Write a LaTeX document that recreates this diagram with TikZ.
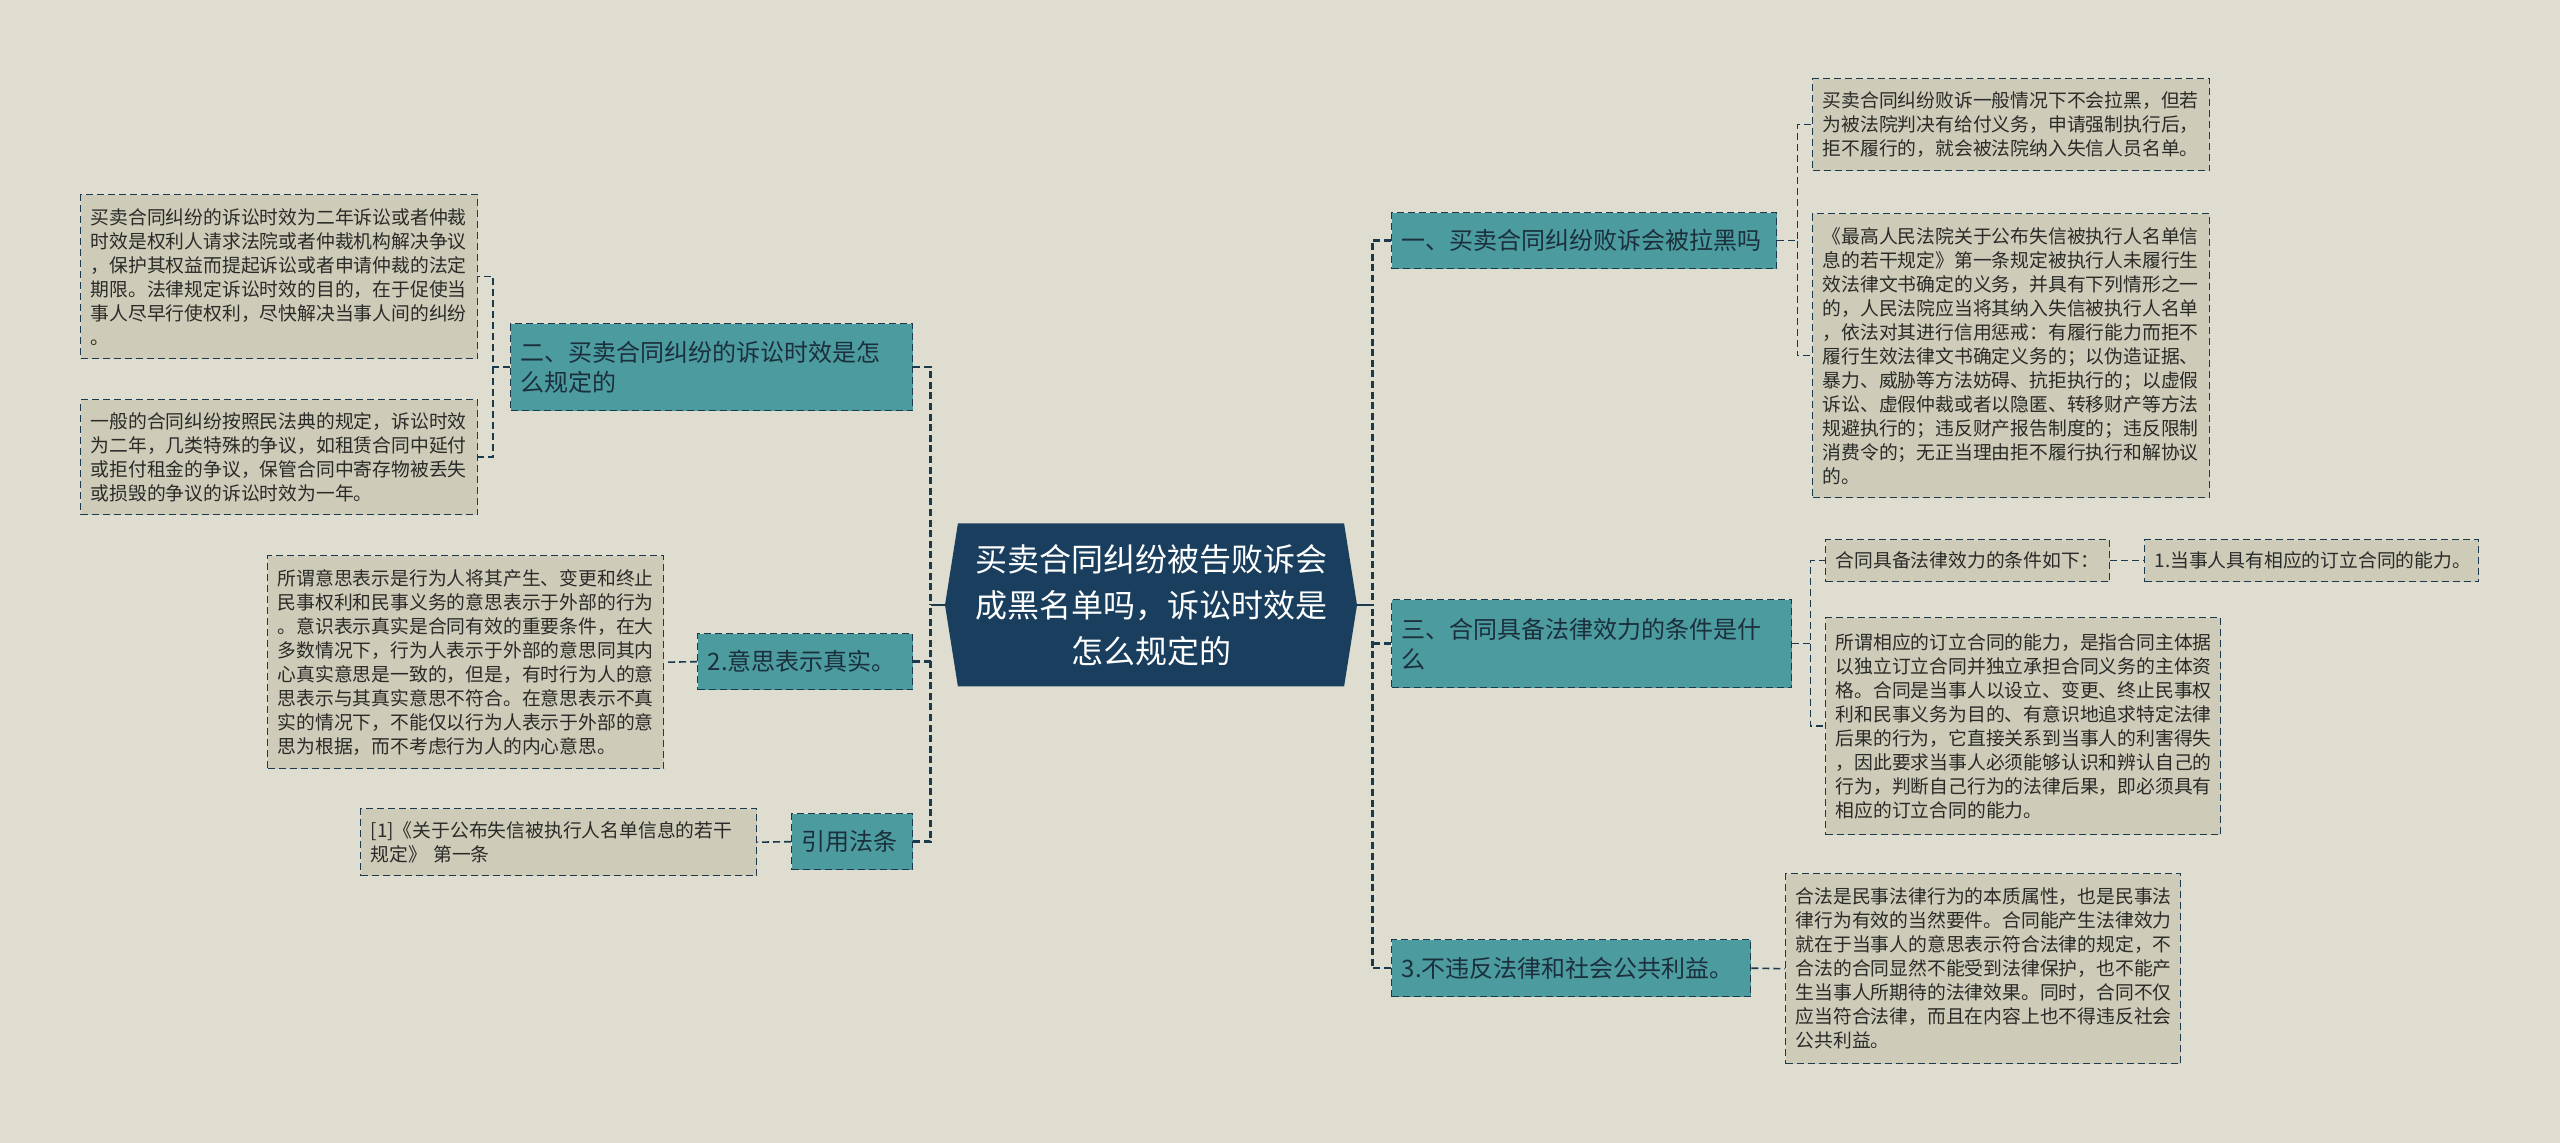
\documentclass[tikz,border=0pt]{standalone}
\usepackage{fontspec}
\newfontfamily\cjk{Noto Sans CJK SC}
\usepackage{xcolor}
\definecolor{PaperBg}{HTML}{DEDDCF}
\definecolor{RootBlue}{HTML}{1A3F5E}
\definecolor{TopicTeal}{HTML}{4C9B9E}
\definecolor{TopicInk}{HTML}{1B2F3C}
\definecolor{LeafKhaki}{HTML}{CECCB8}
\definecolor{LeafInk}{HTML}{2A2A28}
\definecolor{LineNavy}{HTML}{1C3A4E}
\usepackage{tikz}
\usetikzlibrary{
  shapes.symbols,calc
}

\begin{document}
\begin{tikzpicture}[
    x=0.5pt,y=-0.5pt,
    every node/.style={font=\cjk},
    root/.style={signal,signal to=west and east,signal pointer angle=162,
      fill=RootBlue,text=white,align=center,inner sep=0pt,
      minimum width=206pt,minimum height=81.5pt,
      font=\cjk\fontsize{16}{23}\selectfont},
    topic/.style={anchor=north west,fill=TopicTeal,draw=LineNavy,line width=0.7pt,
      dash pattern=on 3.5pt off 2pt,text=TopicInk,align=left,
      inner xsep=5pt,inner ysep=2pt,font=\cjk\fontsize{12}{15}\selectfont},
    leaf/.style={anchor=north west,fill=LeafKhaki,draw=LineNavy,line width=0.7pt,
      dash pattern=on 3.5pt off 2pt,text=LeafInk,align=left,
      inner xsep=5pt,inner ysep=2pt,font=\cjk\fontsize{9.4}{12}\selectfont},
    stem/.style={draw=LineNavy,line width=1.3pt},
    trunk/.style={draw=LineNavy,line width=1.2pt,dash pattern=on 3.5pt off 1.8pt},
    twig/.style={draw=LineNavy,line width=0.8pt,dash pattern=on 3.5pt off 2pt}
  ]
  \useasboundingbox (0,0) rectangle (2560,1143);
  \fill[PaperBg] (0,0) rectangle (2560,1143);

  \node[root] (root) at (1151,605) {买卖合同纠纷被告败诉会\\成黑名单吗，诉讼时效是\\怎么规定的};

  % left side
  \node[topic,text width=191pt,minimum height=43.5pt] (limit) at (510,323)
    {二、买卖合同纠纷的诉讼时效是怎\\么规定的};
  \node[leaf,text width=188.5pt,minimum height=82pt] (limitA) at (80,194)
    {买卖合同纠纷的诉讼时效为二年诉讼或者仲裁\\时效是权利人请求法院或者仲裁机构解决争议\\，保护其权益而提起诉讼或者申请仲裁的法定\\期限。法律规定诉讼时效的目的，在于促使当\\事人尽早行使权利，尽快解决当事人间的纠纷\\。};
  \node[leaf,text width=188.5pt,minimum height=57.5pt] (limitB) at (80,399)
    {一般的合同纠纷按照民法典的规定，诉讼时效\\为二年，几类特殊的争议，如租赁合同中延付\\或拒付租金的争议，保管合同中寄存物被丢失\\或损毁的争议的诉讼时效为一年。};

  \node[topic,text width=97.5pt,minimum height=28pt] (intent) at (697,633)
    {2.意思表示真实。};
  \node[leaf,text width=188pt,minimum height=106.5pt] (intentA) at (267,555)
    {所谓意思表示是行为人将其产生、变更和终止\\民事权利和民事义务的意思表示于外部的行为\\。意识表示真实是合同有效的重要条件，在大\\多数情况下，行为人表示于外部的意思同其内\\心真实意思是一致的，但是，有时行为人的意\\思表示与其真实意思不符合。在意思表示不真\\实的情况下，不能仅以行为人表示于外部的意\\思为根据，而不考虑行为人的内心意思。};

  \node[topic,text width=50.5pt,minimum height=28pt] (cite) at (791,813)
    {引用法条};
  \node[leaf,text width=188pt,minimum height=33.5pt] (citeA) at (360,808)
    {[1]《关于公布失信被执行人名单信息的若干\\规定》 第一条};

  % right side
  \node[topic,text width=182.5pt,minimum height=28pt] (blacklist) at (1391,212)
    {一、买卖合同纠纷败诉会被拉黑吗};
  \node[leaf,text width=188.5pt,minimum height=46pt] (blackA) at (1812,78)
    {买卖合同纠纷败诉一般情况下不会拉黑，但若\\为被法院判决有给付义务，申请强制执行后，\\拒不履行的，就会被法院纳入失信人员名单。};
  \node[leaf,text width=188.5pt,minimum height=142pt] (blackB) at (1812,213)
    {《最高人民法院关于公布失信被执行人名单信\\息的若干规定》第一条规定被执行人未履行生\\效法律文书确定的义务，并具有下列情形之一\\的，人民法院应当将其纳入失信被执行人名单\\，依法对其进行信用惩戒：有履行能力而拒不\\履行生效法律文书确定义务的；以伪造证据、\\暴力、威胁等方法妨碍、抗拒执行的；以虚假\\诉讼、虚假仲裁或者以隐匿、转移财产等方法\\规避执行的；违反财产报告制度的；违反限制\\消费令的；无正当理由拒不履行执行和解协议\\的。};

  \node[topic,text width=190pt,minimum height=44pt] (valid) at (1391,599)
    {三、合同具备法律效力的条件是什\\么};
  \node[leaf,text width=132pt,minimum height=21pt] (validA) at (1825,539)
    {合同具备法律效力的条件如下：};
  \node[leaf,text width=157pt,minimum height=21pt] (validA1) at (2144,539)
    {1.当事人具有相应的订立合同的能力。};
  \node[leaf,text width=187.5pt,minimum height=108.5pt] (validB) at (1825,617)
    {所谓相应的订立合同的能力，是指合同主体据\\以独立订立合同并独立承担合同义务的主体资\\格。合同是当事人以设立、变更、终止民事权\\利和民事义务为目的、有意识地追求特定法律\\后果的行为，它直接关系到当事人的利害得失\\，因此要求当事人必须能够认识和辨认自己的\\行为，判断自己行为的法律后果，即必须具有\\相应的订立合同的能力。};

  \node[topic,text width=169.5pt,minimum height=28.5pt] (legal) at (1391,939)
    {3.不违反法律和社会公共利益。};
  \node[leaf,text width=187.5pt,minimum height=95pt] (legalA) at (1785,873)
    {合法是民事法律行为的本质属性，也是民事法\\律行为有效的当然要件。合同能产生法律效力\\就在于当事人的意思表示符合法律的规定，不\\合法的合同显然不能受到法律保护，也不能产\\生当事人所期待的法律效果。同时，合同不仅\\应当符合法律，而且在内容上也不得违反社会\\公共利益。};

  % connectors
  \draw[stem] (root.west) -- ++(-14,0) coordinate (lfork);
  \draw[stem] (root.east) -- ++(15,0) coordinate (rfork);
  \draw[trunk] (limit.east) -| (lfork) (cite.east) -| (lfork)
    (intent.east) -- (intent.east -| lfork);
  \draw[trunk] (blacklist.west) -| (rfork) (legal.west) -| (rfork)
    (valid.west) -- (valid.west -| rfork);

  \draw[twig] (limit.west) -- ++(-17,0) coordinate (limitfork) |- (limitA.east)
    (limitfork) |- (limitB.east);
  \draw[twig] (intent.west) -- (intentA.east);
  \draw[twig] (cite.west) -- (citeA.east);
  \draw[twig] (blacklist.east) -- ++(20,0) coordinate (blackfork) |- (blackA.west)
    (blackfork) |- (blackB.west);
  \draw[twig] (valid.east) -- ++(18,0) coordinate (validfork) |- (validA.west)
    (validfork) |- (validB.west);
  \draw[twig] (validA.east) -- (validA1.west);
  \draw[twig] (legal.east) -- (legalA.west);
\end{tikzpicture}
\end{document}
